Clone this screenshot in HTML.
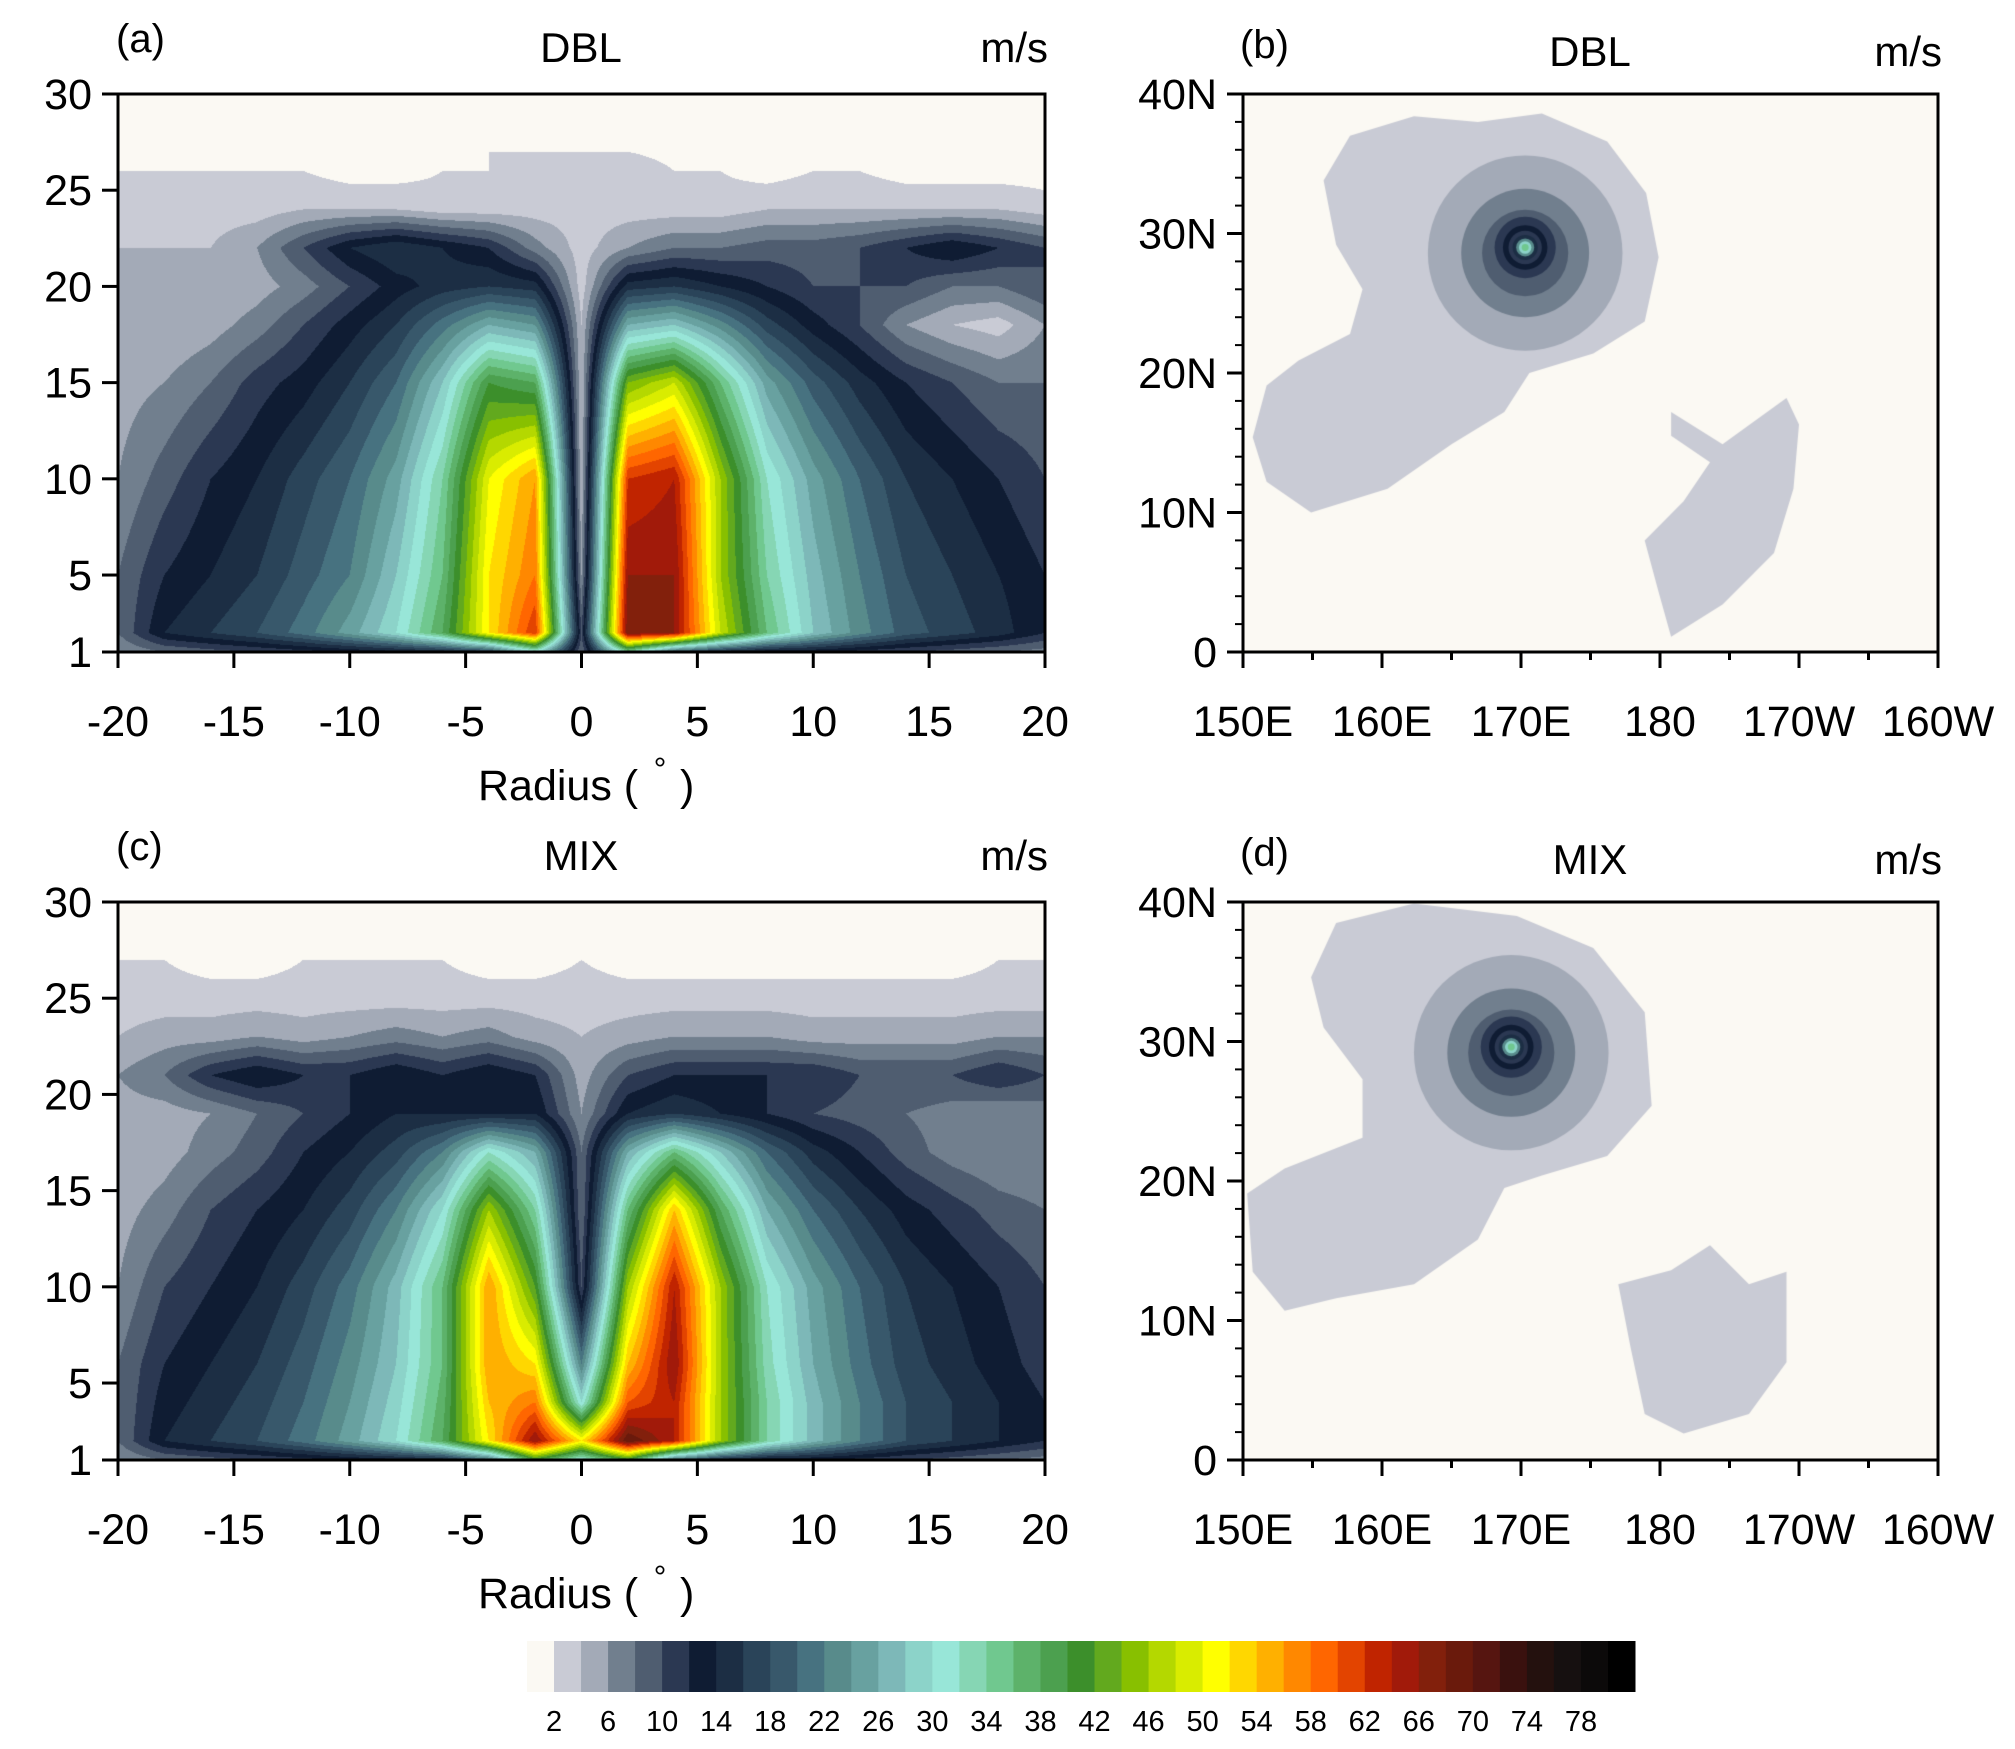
<!DOCTYPE html>
<html><head><meta charset="utf-8">
<style>
html,body{margin:0;padding:0;background:#fff;}
#wrap{position:relative;width:2015px;height:1749px;overflow:hidden;}
canvas,svg{position:absolute;left:0;top:0;}
text{font-family:"Liberation Sans",sans-serif;fill:#000;}
</style></head>
<body>
<div id="wrap">
<canvas id="cv" width="2015" height="1749"></canvas>
<svg id="sv" width="2015" height="1749" xmlns="http://www.w3.org/2000/svg"></svg>
</div>
<script>
const levelColors = ["#fbf9f3","#c9cbd5","#a3aab7","#717f8e","#4f5d70","#2b3852","#0f1c33","#1c2e44","#2a4459","#38586b","#477280","#588b8b","#68a1a0","#7db8b8","#8cd3c9","#98e6d8","#86d6b4","#70c88f","#5db26a","#4ca04f","#3c8f2b","#62a91e","#88c000","#b4d800","#d9ec00","#ffff00","#ffd700","#ffb000","#ff8800","#ff6600","#e34400","#c02400","#a11a0a","#82200c","#6a1a0c","#561510","#3a110e","#24110e","#161010","#0c0a0a","#000000"];
const cbarLabels = [2,6,10,14,18,22,26,30,34,38,42,46,50,54,58,62,66,70,74,78];

const radii = [-20,-18,-16,-14,-12,-10,-8,-6,-4,-2,0,2,4,6,8,10,12,14,16,18,20];
const heightsA = [1,2,5,10,15,18,20,22,24,26,28,30];
const dblWind = [
 [6,8,9,10,11,12,13,14,16,30,8,34,18,14,12,12,11,10,9,8,7],
 [8,14,16,18,21,25,30,38,52,62,10,68,66,48,36,28,23,19,17,15,12],
 [8,12,14,16,19,22,28,36,52,58,6,66,66,46,34,27,22,18,16,14,12],
 [6,9,12,14,17,20,25,34,50,56,4,62,64,46,32,25,20,16,14,12,10],
 [5,6,8,11,13,16,20,28,40,38,4,44,48,36,25,19,15,12,10,8,8],
 [4,4,5,7,10,13,16,21,26,24,4,26,28,23,17,13,10,6,4,3,6],
 [4,4,4,5,7,10,13,15,16,15,3,15,16,14,12,10,10,10,8,8,10],
 [4,4,4,6,10,14,16,14,12,7,3,6,8,8,9,9,10,12,14,12,10],
 [3,3,3,3,4,4,4,3,3,3,3,3,3,3,4,4,4,4,4,4,3],
 [2,2,2,2,2,1,1,2,2,3,3,3,2,2,1,2,2,1,1,1,1],
 [1,2,1,1,1,1,1,1,2,1,1,1,1,1,1,1,1,1,1,1,1],
 [1,1,1,1,1,1,1,1,1,1,1,1,1,1,1,1,1,1,1,1,1]
];
const heightsC = [1,2,4,6,10,14,17,19,21,23,25,27,30];
const mixWind = [
 [6,8,9,10,11,12,13,14,20,40,30,40,20,14,12,12,11,10,9,8,7],
 [8,14,16,18,21,25,30,38,52,66,52,70,64,46,34,27,22,18,16,14,12],
 [8,13,15,17,20,24,29,37,54,58,30,60,64,46,34,27,22,18,16,14,12],
 [8,12,14,16,19,23,28,36,56,52,22,54,66,46,33,26,21,17,15,13,11],
 [6,10,12,14,17,21,27,36,56,42,10,46,64,46,32,25,20,16,14,12,10],
 [5,7,10,12,14,17,22,30,46,34,8,36,54,38,26,20,16,13,11,9,8],
 [4,5,7,9,12,14,17,22,32,26,8,26,36,28,20,15,12,9,7,6,6],
 [5,5,6,8,10,12,14,14,14,14,6,14,16,14,12,10,9,8,7,6,7],
 [6,8,12,14,12,12,14,12,14,12,5,10,12,12,12,12,10,10,10,12,10],
 [4,5,5,6,5,6,7,6,7,5,4,5,6,6,6,5,5,5,5,6,6],
 [3,3,3,3,3,3,3,3,3,3,3,3,3,3,3,3,3,3,3,3,3],
 [2,2,1,1,2,2,2,2,1,1,2,1,1,1,1,1,1,1,1,2,2],
 [1,1,1,1,1,1,1,1,1,1,1,1,1,1,1,1,1,1,1,1,1]
];
const radiusTicks = [-20,-15,-10,-5,0,5,10,15,20];
const heightTicks = [1,5,10,15,20,25,30];

const lonTicks = [150,160,170,180,190,200];
const lonLabels = ["150E","160E","170E","180","170W","160W"];
const latTicks = [0,10,20,30,40];
const latLabels = ["0","10N","20N","30N","40N"];
const dblCenter = [170.3,29];
const mixCenter = [169.3,29.6];
const ringRadii = [7,4.6,3.1,2.2,1.6,1.2,0.9,0.65,0.45,0.25];
const ringLevels = [2,3,4,5,6,5,7,11,14,17];
const dblBlobLon = [166.9,171.5,176.2,179,179.9,178.9,175.2,170.6,168.8,165,160.4,154.9,151.7,150.7,151.7,154,157.7,158.6,156.7,155.8,157.7,162.3];
const dblBlobLat = [38,38.6,36.6,32.9,28.3,23.7,21.4,20,17.2,14.9,11.7,10,12.2,15.4,19.1,20.9,22.8,26,29.2,33.8,37,38.4];
const dblBlob2Lon = [180.8,184.5,189.1,190,189.6,188.2,184.5,180.8,179.9,178.9,181.7,183.6,180.8];
const dblBlob2Lat = [17.2,14.9,18.2,16.3,11.7,7.1,3.4,1.1,4.3,8,10.8,13.6,15.5];
const mixBlobLon = [156.7,162.3,169.7,175.2,178.9,179.4,176.2,171.5,168.8,166.9,162.3,156.7,153,150.7,150.3,153,158.6,158.6,155.8,154.9];
const mixBlobLat = [38.5,39.9,39,36.7,32.1,25.4,21.8,20.4,19.5,15.8,12.6,11.6,10.7,13.5,19.1,20.9,23.1,27.3,31,34.6];
const mixBlob2Lon = [180.8,183.6,186.4,189.1,189.1,186.4,181.7,178.9,177.9,177];
const mixBlob2Lat = [13.6,15.4,12.6,13.5,7,3.3,1.9,3.3,8,12.6];

const cv = document.getElementById('cv');
const ctx = cv.getContext('2d');
const sv = document.getElementById('sv');
const NS = 'http://www.w3.org/2000/svg';
function mk(tag, attrs, parent){const e=document.createElementNS(NS,tag);for(const k in attrs)e.setAttribute(k,attrs[k]);(parent||sv).appendChild(e);return e;}
function txt(x,y,s,size,anchor,name,parent){const t=mk('text',{x:x,y:y,'font-size':size,'text-anchor':anchor||'middle'},parent);t.textContent=s;


return t;}
function hex(c){return [parseInt(c.substr(1,2),16),parseInt(c.substr(3,2),16),parseInt(c.substr(5,2),16)];}
const rgb = levelColors.map(hex);
function lvl(v){let k=Math.floor(v/2);return Math.max(0,Math.min(40,k));}
function interp(arr, v){
  for(let i=0;i<arr.length-1;i++){ if(v<=arr[i+1]) return [i,(v-arr[i])/(arr[i+1]-arr[i])]; }
  return [arr.length-2,1];
}

function crossSection(px, name, title, tag, heights, grid){
  const X0=118,X1=1045,Y0=px,Y1=px+558;
  const xs = r => X0+(r+20)/40*(X1-X0);
  const ys = h => Y1-(h-1)/29*(Y1-Y0);
  const W=X1-X0,H=Y1-Y0;
  const img=ctx.createImageData(W,H);
  for(let j=0;j<H;j++){
    const h=1+(H-j-0.5)/H*29;
    const [iy,fy]=interp(heights,h);
    for(let i=0;i<W;i++){
      const r=-20+(i+0.5)/W*40;
      const [ix,fx]=interp(radii,r);
      const v=(grid[iy][ix]*(1-fx)+grid[iy][ix+1]*fx)*(1-fy)+(grid[iy+1][ix]*(1-fx)+grid[iy+1][ix+1]*fx)*fy;
      const c=rgb[lvl(v)];const p=(j*W+i)*4;
      img.data[p]=c[0];img.data[p+1]=c[1];img.data[p+2]=c[2];img.data[p+3]=255;
    }
  }
  ctx.putImageData(img,X0,Y0);
  const g=mk('g',{});
  
  
  mk('rect',{x:X0,y:Y0,width:W,height:H,fill:'none',stroke:'#000','stroke-width':3},g);
  radiusTicks.forEach(r=>{
    mk('line',{x1:xs(r),x2:xs(r),y1:Y1,y2:Y1+16,stroke:'#000','stroke-width':3},g);
    txt(xs(r),Y1+84,String(r),43,'middle','x-tick-label',g);
  });
  heightTicks.forEach(h=>{
    mk('line',{x1:X0-16,x2:X0,y1:ys(h),y2:ys(h),stroke:'#000','stroke-width':3},g);
    txt(X0-26,ys(h)+15,String(h),43,'end','y-tick-label',g);
  });
  txt(478,Y1+148,'Radius (',43,'start','x-axis-title',g);
  txt(660,Y1+128,'°',32,'middle','x-axis-title-degree',g);
  txt(680,Y1+148,')',43,'start','x-axis-title-paren',g);
  txt(116,Y0-42,tag,40,'start','panel-label',g);
  txt(581,Y0-32,title,42,'middle','panel-title',g);
  txt(1048,Y0-32,'m/s',42,'end','units-label',g);
}
crossSection(94,'panel-a-dbl-cross-section','DBL','(a)',heightsA,dblWind);
crossSection(902,'panel-c-mix-cross-section','MIX','(c)',heightsC,mixWind);

function mapPanel(py,name,title,tag,center,b1lon,b1lat,b2lon,b2lat){
  const X0=1243,X1=1938,Y0=py,Y1=py+558;
  const xs=l=>X0+(l-150)/50*(X1-X0);
  const ys=l=>Y1-l/40*(Y1-Y0);
  ctx.save();ctx.beginPath();ctx.rect(X0,Y0,X1-X0,Y1-Y0);ctx.clip();
  ctx.fillStyle=levelColors[0];ctx.fillRect(X0,Y0,X1-X0,Y1-Y0);
  ctx.fillStyle=levelColors[1];
  [[b1lon,b1lat],[b2lon,b2lat]].forEach(([lo,la])=>{
    ctx.beginPath();lo.forEach((l,i)=>{i?ctx.lineTo(xs(l),ys(la[i])):ctx.moveTo(xs(l),ys(la[i]));});ctx.closePath();ctx.fill();
  });
  ringRadii.forEach((r,i)=>{
    ctx.fillStyle=levelColors[ringLevels[i]];
    ctx.beginPath();ctx.ellipse(xs(center[0]),ys(center[1]-(i<3?0.4:0)),xs(150+r)-X0,ys(0)-ys(r),0,0,Math.PI*2);ctx.fill();
  });
  ctx.restore();
  const g=mk('g',{});
  
  
  mk('rect',{x:X0,y:Y0,width:X1-X0,height:Y1-Y0,fill:'none',stroke:'#000','stroke-width':3},g);
  for(let l=150;l<=200;l+=5){const major=l%10===0;
    mk('line',{x1:xs(l),x2:xs(l),y1:Y1,y2:Y1+(major?16:8),stroke:'#000','stroke-width':3},g);}
  lonTicks.forEach((l,i)=>txt(xs(l),Y1+84,lonLabels[i],43,'middle','lon-tick-label',g));
  for(let l=0;l<=40;l+=2){const major=l%10===0;
    mk('line',{x1:X0-(major?16:8),x2:X0,y1:ys(l),y2:ys(l),stroke:'#000','stroke-width':major?3:2},g);}
  latTicks.forEach((l,i)=>txt(X0-26,ys(l)+15,latLabels[i],43,'end','lat-tick-label',g));
  txt(1240,Y0-36,tag,40,'start','panel-label',g);
  txt(1590,Y0-28,title,42,'middle','panel-title',g);
  txt(1942,Y0-28,'m/s',42,'end','units-label',g);
}
mapPanel(94,'panel-b-dbl-map','DBL','(b)',dblCenter,dblBlobLon,dblBlobLat,dblBlob2Lon,dblBlob2Lat);
mapPanel(902,'panel-d-mix-map','MIX','(d)',mixCenter,mixBlobLon,mixBlobLat,mixBlob2Lon,mixBlob2Lat);

(function(){
  const X0=527,X1=1635,Y0=1641,Y1=1692,n=levelColors.length,bw=(X1-X0)/n;
  const g=mk('g',{});
  
  
  levelColors.forEach((c,i)=>{
    const r=mk('rect',{x:X0+i*bw,y:Y0,width:bw+0.5,height:Y1-Y0,fill:c},g);
    
    
  });
  cbarLabels.forEach(v=>{
    const k=v/2;
    txt(X0+k*bw,1731,String(v),29,'middle','colorbar-label',g);
  });
})();
</script>
</body></html>
